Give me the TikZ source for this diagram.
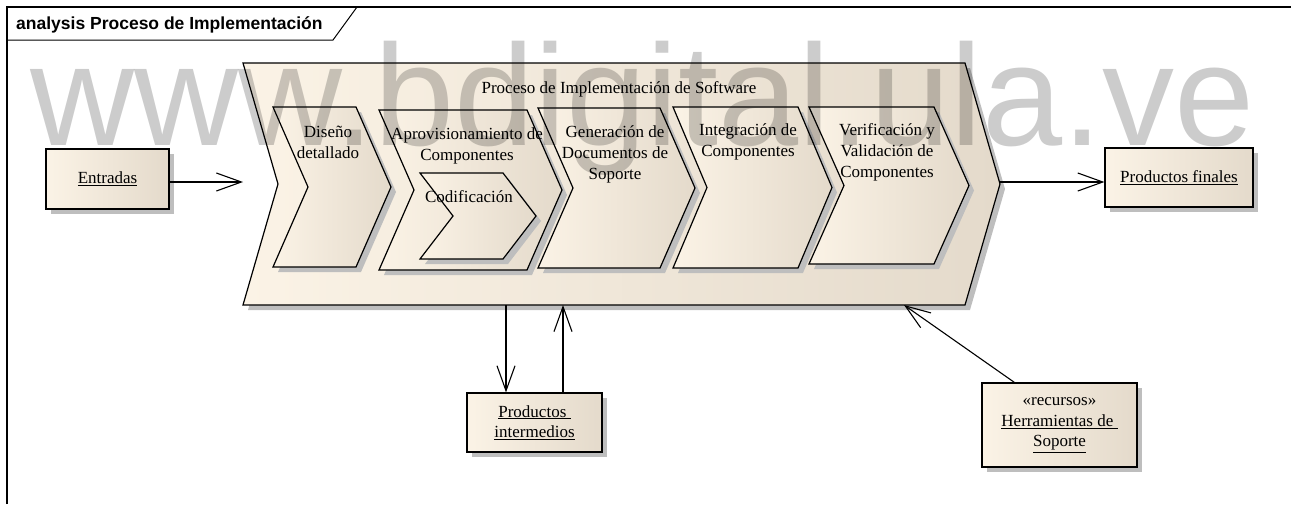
\documentclass[tikz,border=0pt]{standalone}
\usepackage{fontspec}
\setmainfont{Liberation Serif}
\newfontfamily\framefont{Liberation Sans}
\usetikzlibrary{arrows.meta,shadows,calc}

\definecolor{fillL}{RGB}{251,243,230}
\definecolor{fillR}{RGB}{228,218,203}
\definecolor{shadowgray}{RGB}{190,190,190}
\definecolor{wmgray}{RGB}{204,204,204}

% chevron outline: top-left x, top y, body right x, bottom y, point depth
\newcommand{\chevronpath}[5]{(#1,#2) -- (#3,#2) -- ({#3+#5},{(#2+#4)/2}) -- (#3,#4) -- (#1,#4) -- ({#1+#5},{(#2+#4)/2}) -- cycle}

\tikzset{
  elemshadow/.style={drop shadow={shadow xshift=5pt, shadow yshift=-5pt, fill=shadowgray, opacity=1}},
  elem/.style={draw=black, line width=1.2pt, left color=fillL, right color=fillR, elemshadow},
  lbl/.style={inner sep=0pt, align=center, font=\fontsize{17}{21}\selectfont},
  objbox/.style={elem, rectangle, inner sep=0pt, align=center, font=\fontsize{17}{20.5}\selectfont},
  flow/.style={draw, line width=1.1pt, -{Straight Barb[length=25pt,width=18pt,line width=1.1pt]}},
}

\begin{document}
\begin{tikzpicture}[x=1pt,y=-1pt]
\useasboundingbox (0,0) rectangle (1291,504);

% diagram frame with its name tab
\draw[line width=1.2pt] (7,504) -- (7,7) -- (1291,7);
\draw[line width=1pt] (7,40) -- (333,40) -- (357,7);
\node[anchor=base west, inner sep=0pt, font=\framefont\bfseries\fontsize{17.5}{20}\selectfont] (title) at (16,29) {analysis Proceso de Implementación};

% main process
\path[elem] \chevronpath{243}{63}{965}{305}{35};
\node[lbl, anchor=base] (procname) at (619,93) {Proceso de Implementación de Software};

% sub-processes
\path[elem] \chevronpath{273}{107}{356}{267}{35};
\path[elem] \chevronpath{379}{110}{527}{270}{35};
\path[elem] \chevronpath{538}{108}{660}{268}{35};
\path[elem] \chevronpath{673}{107}{798}{268}{34};
\path[elem] \chevronpath{809}{107}{934}{264}{35};
\path[elem] \chevronpath{420}{173}{503}{259}{33};

% labels, placed by the baseline of their last line
\node[lbl, anchor=base] (dis) at (328,158) {Diseño\\detallado};
\node[lbl, anchor=base] (apr) at (467,160) {Aprovisionamiento de\\Componentes};
\node[lbl, anchor=base] (cod) at (469,202) {Codificación};
\node[lbl, anchor=base] (gen) at (615,179) {Generación de\\Documentos de\\Soporte};
\node[lbl, anchor=base] (int) at (748,156) {Integración de\\Componentes};
\node[lbl, anchor=base] (ver) at (887,177) {Verificación y\\Validación de\\Componentes};

% connection points on the main process
\coordinate (procIn)  at (243,182);
\coordinate (procOut) at (1000,182);
\coordinate (procB1)  at (506,305);
\coordinate (procB2)  at (563,305);
\coordinate (procB3)  at (904,305);

% objects
\node[objbox, minimum width=123pt, minimum height=60pt] (ent) at (107.5,179) {\underline{Entradas}};
\node[objbox, minimum width=148pt, minimum height=59pt] (fin) at (1179,177.5) {\underline{Productos finales}};
\node[objbox, minimum width=135pt, minimum height=59pt] (inter) at (534.5,422.5) {\underline{Productos\ }\\\underline{intermedios}};
\node[objbox, minimum width=155pt, minimum height=84pt] (herr) at (1059.5,425) {«recursos»\\\underline{Herramientas de\ }\\\underline{Soporte}};

% flows
\draw[flow] (ent.east |- procIn) -- (procIn);
\draw[flow] (procOut) -- (fin.west |- procOut);
\draw[flow] (procB1) -- (inter.north -| procB1);
\draw[flow] (inter.north -| procB2) -- (procB2);
\draw[flow] ($(herr.north west)+(33,0)$) -- (procB3);

% repository watermark
\begin{scope}[blend mode=multiply]
\node[anchor=base west, inner sep=0pt, text=wmgray, font=\framefont\fontsize{144}{144}\selectfont] (wm) at (30,145) {www.bdigital.ula.ve};
\end{scope}
\end{tikzpicture}
\end{document}
